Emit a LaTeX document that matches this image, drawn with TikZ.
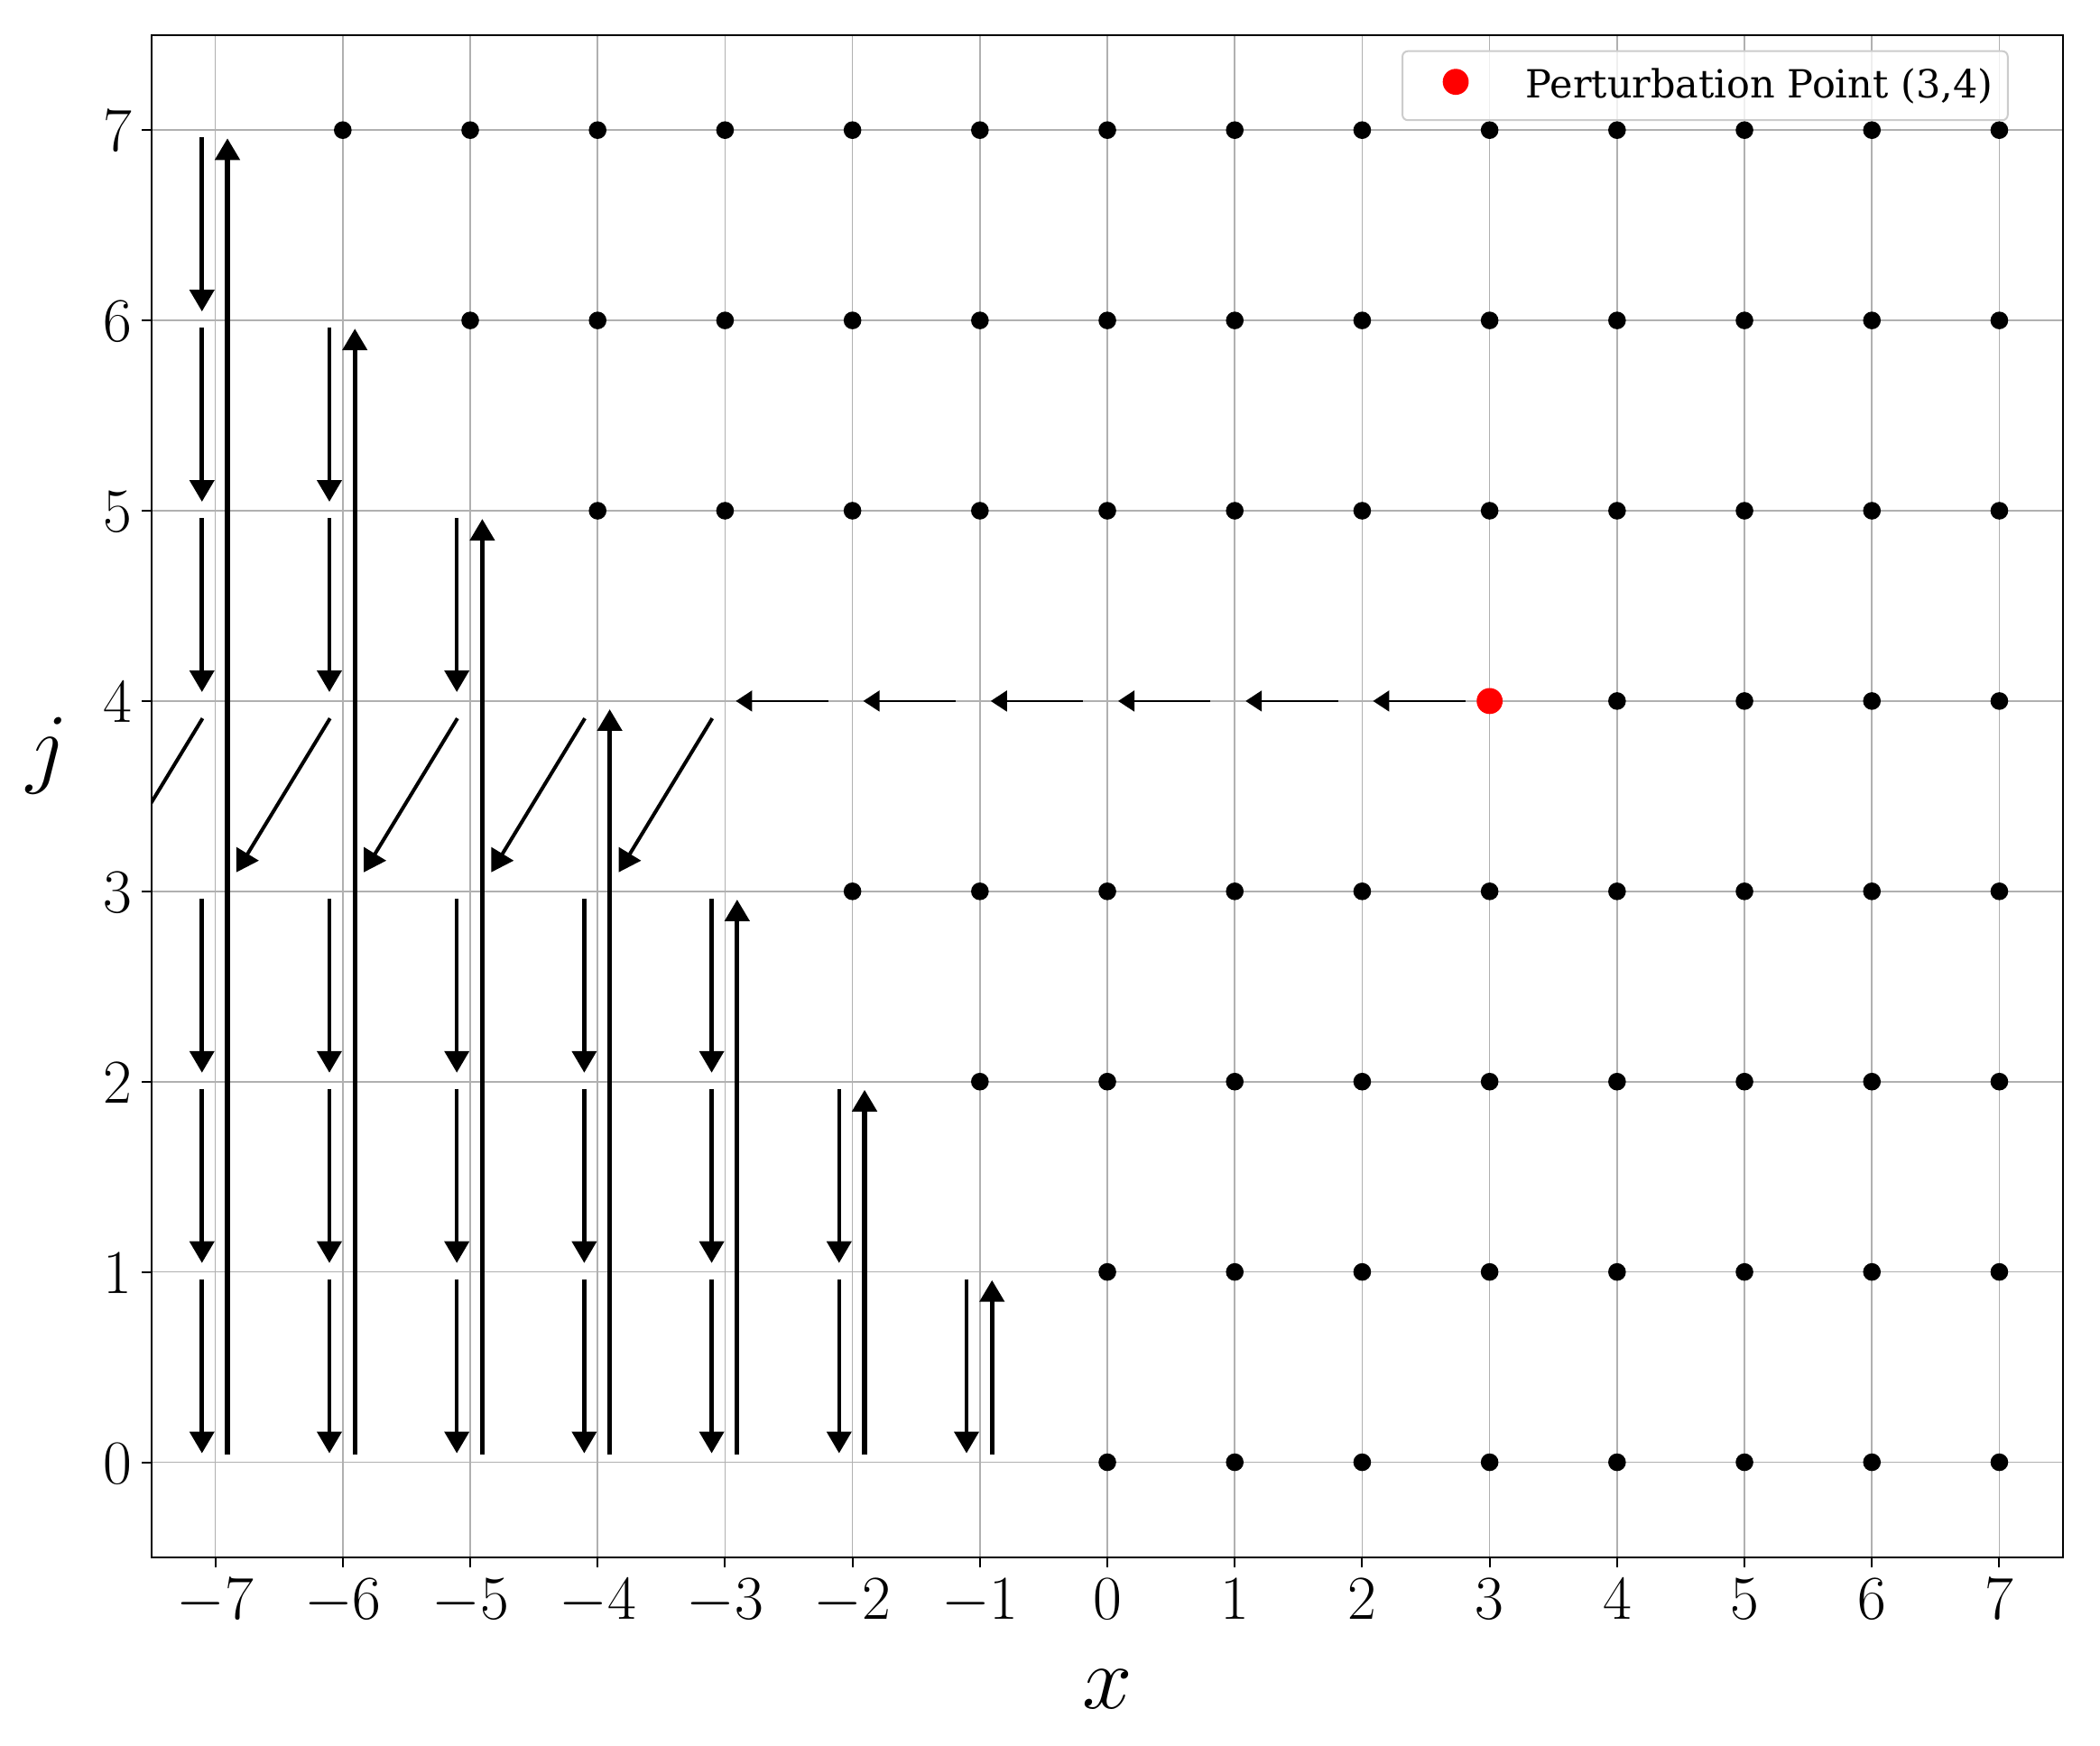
\documentclass[tikz,border=0pt]{standalone}
\usepackage{fontspec}
\newfontfamily\legfont{DejaVu Serif}
\usetikzlibrary{arrows.meta}
\definecolor{gridgray}{HTML}{B0B0B0}
\definecolor{legborder}{HTML}{CCCCCC}
\definecolor{ptred}{HTML}{FF0000}
\begin{document}
\begin{tikzpicture}[x=35.3pt, y=52.725pt,
  gridline/.style={draw=gridgray, line width=0.4pt},
  dot/.style={circle, fill=black, inner sep=0pt, minimum size=4.9pt},
  reddot/.style={circle, fill=ptred, inner sep=0pt, minimum size=7.2pt},
  downarrow/.style={line width=1.15pt, -{Triangle[length=6pt,width=6.7pt]}},
  uparrow/.style={line width=1.3pt, -{Triangle[length=6pt,width=6.7pt]}},
  harrow/.style={line width=0.6pt, -{Triangle[length=4.5pt,width=5.75pt]}},
  darrow/.style={line width=1pt, -{Triangle[length=6pt,width=7pt]}},
  ticklab/.style={inner sep=0pt, font=\fontsize{18.6}{22}\selectfont},
  axlab/.style={inner sep=0pt, font=\fontsize{25}{30}\selectfont},
]
\useasboundingbox (-8.690,-1.4865) rectangle (7.790,7.6838);
% grid
\foreach \k in {-7,...,7} \draw[gridline] (\k,-0.5) -- (\k,7.5);
\foreach \j in {0,...,7} \draw[gridline] (-7.5,\j) -- (7.5,\j);
% dots
\foreach \y/\a in {7/-6,6/-5,5/-4,3/-2,2/-1,1/0,0/0}
  \foreach \x in {\a,...,7} \node[dot] (d\x-\y) at (\x,\y) {};
\foreach \x in {4,...,7} \node[dot] (d\x-4) at (\x,4) {};
\node[reddot] (pert) at (3,4) {};
% arrows
\begin{scope}
\clip (-7.5,-0.5) rectangle (7.5,7.5);
\foreach \k in {3,2,1,0,-1,-2} \draw[harrow] (\k-0.19,4) -- (\k-0.915,4);
\foreach \k in {-3,-4,-5,-6,-7} \draw[darrow] (\k-0.1,3.909) -- (\k-0.835,3.1);
\foreach \k/\j in {-7/7,-7/6,-7/5,-7/3,-7/2,-7/1,-6/6,-6/5,-6/3,-6/2,-6/1,
  -5/5,-5/3,-5/2,-5/1,-4/3,-4/2,-4/1,-3/3,-3/2,-3/1,-2/2,-2/1,-1/1}
  \draw[downarrow] (\k-0.105,\j-0.038) -- (\k-0.105,\j-0.953);
\foreach \k/\t in {-7/7,-6/6,-5/5,-4/4,-3/3,-2/2,-1/1}
  \draw[uparrow] (\k+0.095,0.042) -- (\k+0.095,\t-0.043);
\end{scope}
% frame and ticks
\draw[line width=0.5pt] (-7.5,-0.5) rectangle (7.5,7.5);
\foreach \k in {-7,...,7} {
  \draw[line width=0.5pt] (\k,-0.5) -- ++(0,-2.7pt);
  \node[ticklab, anchor=base] (xt\k) at (\k,-0.8227) {$\k$};
}
\foreach \j in {0,...,7} {
  \draw[line width=0.5pt] (-7.5,\j) -- ++(-2.7pt,0);
  \node[ticklab, anchor=base east] (yt\j) at (-7.649,\j-0.1115) {$\j$};
}
\node[axlab, anchor=base] (xlab) at (0,-1.292) {$x$};
\node[axlab, anchor=base] (ylab) at (-8.321,3.606) {$j$};
% legend
\draw[draw=legborder, fill=white, fill opacity=0.8, line width=0.5pt, rounded corners=1.5pt] (2.316,7.052) rectangle (7.066,7.415);
\node[reddot] (legdot) at (2.734,7.2537) {};
\node[inner sep=0pt, anchor=base west, font=\legfont\fontsize{10.75}{12.9}\selectfont] (legtext) at (3.279,7.167) {Perturbation Point (3,4)};
\end{tikzpicture}
\end{document}
